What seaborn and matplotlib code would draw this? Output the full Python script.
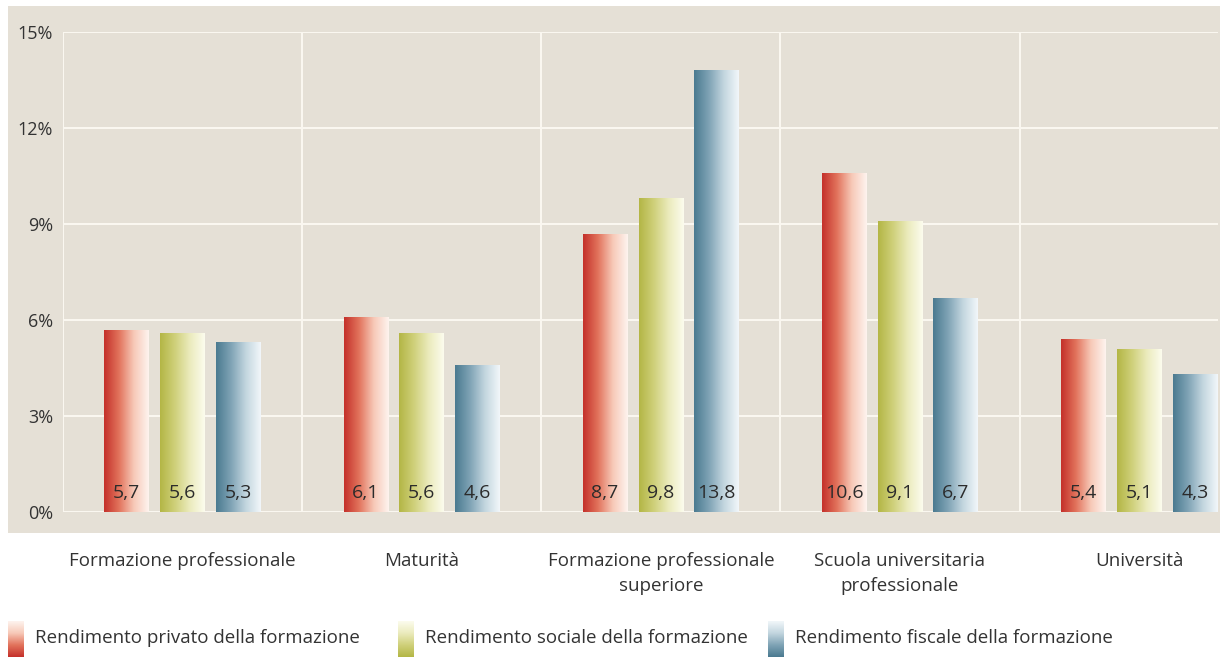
import numpy as np
import pandas as pd
import matplotlib
matplotlib.use("Agg")
import matplotlib.pyplot as plt
import seaborn as sns
from matplotlib.colors import LinearSegmentedColormap
from matplotlib.patches import Rectangle

categories = ["Formazione professionale", "Maturità", "Formazione professionale\nsuperiore",
              "Scuola universitaria\nprofessionale", "Università"]
series = ["Rendimento privato della formazione", "Rendimento sociale della formazione",
          "Rendimento fiscale della formazione"]
privato = [5.7, 6.1, 8.7, 10.6, 5.4]
sociale = [5.6, 5.6, 9.8, 9.1, 5.1]
fiscale = [5.3, 4.6, 13.8, 6.7, 4.3]
yticks = [0, 3, 6, 9, 12, 15]

# gradient colours (dark left -> light right)
grad = {
    series[0]: ["#c4302a", "#e2735c", "#f7c9b8", "#fef4ef"],
    series[1]: ["#b3b645", "#cfd07a", "#ebebbd", "#fcfcee"],
    series[2]: ["#4a7a90", "#7fa3b5", "#c3d6df", "#f2f7fa"],
}
bg = "#e5e0d6"
txt = "#333333"

plt.rcParams['font.family'] = ['Open Sans', 'DejaVu Sans']

df = pd.DataFrame({
    "categoria": categories * 3,
    "serie": [series[0]] * 5 + [series[1]] * 5 + [series[2]] * 5,
    "valore": privato + sociale + fiscale,
})

W, H = 1223, 657
fig = plt.figure(figsize=(W / 100, H / 100), dpi=100)
fig.patch.set_facecolor("white")
# beige panel behind the plot
fig.patches.append(Rectangle((8 / W, 1 - 533 / H), (1220 - 8) / W, (533 - 6) / H,
                             transform=fig.transFigure, facecolor=bg, edgecolor="none", zorder=-5))

ax = fig.add_axes([63 / W, 1 - 512 / H, (1218 - 63) / W, (512 - 32) / H])
ax.set_facecolor("none")
ax.set_zorder(2)

sns.barplot(data=df, x="categoria", y="valore", hue="serie", order=categories,
            hue_order=series, palette=[g[0] for g in grad.values()],
            width=0.70, gap=0.2, legend=False, ax=ax, zorder=3)

# gradients on bars
bars = list(ax.patches)
for i, p in enumerate(bars):
    s = series[i // len(categories)]
    cmap = LinearSegmentedColormap.from_list(s, grad[s])
    x0, w, h = p.get_x(), p.get_width(), p.get_height()
    im = ax.imshow(np.linspace(0, 1, 256).reshape(1, -1), cmap=cmap, aspect="auto",
                   extent=[x0, x0 + w, 0, h], zorder=3, interpolation="bicubic")
    im.set_clip_path(p)
    p.set_facecolor("none")
    p.set_edgecolor("none")
    val = f"{h:.1f}".replace(".", ",")
    ax.text(x0 + w / 2, 0.6, val, ha="center", va="center", fontsize=14, color="#2b2b2b", zorder=5)

ax.set_xlim(-0.5, 4.33)
ax.set_ylim(0, 15)

# grid
for y in yticks:
    ax.axhline(y, color="#fbf8f1", lw=1.4, zorder=1)
for xb in np.arange(-0.5, 4, 1.0):
    ax.axvline(xb, color="#fbf8f1", lw=1.4, zorder=1)

ax.set_yticks(yticks)
ax.set_yticklabels([f"{y}%" for y in yticks], fontsize=13, color=txt)
ax.set_xticks(range(len(categories)))
ax.set_xticklabels(categories, fontsize=13.5, color=txt, va="top", linespacing=1.45)
ax.tick_params(axis="both", length=0)
ax.tick_params(axis="y", pad=7)
ax.tick_params(axis="x", pad=29)
ax.set_xlabel("")
ax.set_ylabel("")
for sp in ax.spines.values():
    sp.set_visible(False)

# legend with vertical gradient swatches
leg_x = [8, 398, 768]
for s, lx in zip(series, leg_x):
    lax = fig.add_axes([lx / W, 0, 16 / W, (657 - 621) / H])
    cmap = LinearSegmentedColormap.from_list(s + "_l", grad[s])
    lax.imshow(np.linspace(0, 1, 256).reshape(-1, 1)[::-1], cmap=cmap, aspect="auto",
               interpolation="bicubic")
    lax.axis("off")
    fig.text((lx + 27) / W, 1 - 638 / H, s, fontsize=13.5, color=txt, ha="left", va="center")

fig.savefig("out.png", dpi=100, facecolor="white")
